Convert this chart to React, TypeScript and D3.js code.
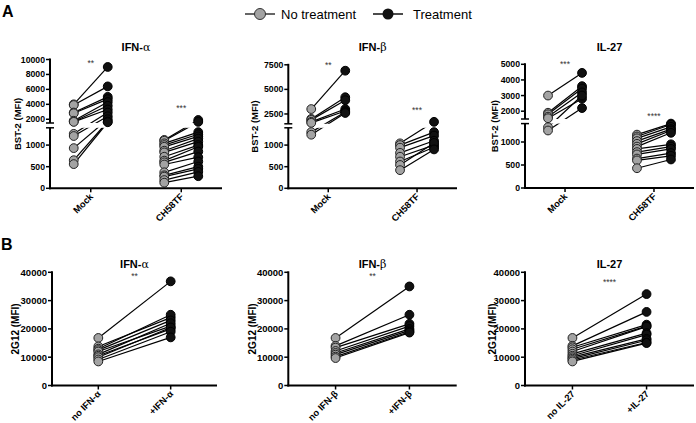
import React from 'react';
import * as d3 from 'd3';

// ---------- DATA ----------
const catsA = ['Mock', 'CH58TF'];
const catsB1 = ['no IFN-α', '+IFN-α'];
const catsB2 = ['no IFN-β', '+IFN-β'];
const catsB3 = ['no IL-27', '+IL-27'];

// Panel A – BST-2 (MFI)
const a1MockBefore = [4000, 3900, 2900, 2800, 1800, 1700, 1650, 1260, 1210, 930, 650, 560];
const a1MockAfter = [9000, 6400, 5000, 4700, 4300, 3800, 3300, 2900, 2400, 2000, 1700, 1600];
const a1TfBefore = [1120, 1100, 1040, 1000, 960, 870, 830, 730, 640, 600, 550, 370, 300, 270, 190, 130];
const a1TfAfter = [1900, 1650, 1300, 1250, 1200, 1150, 1080, 1000, 960, 850, 720, 620, 500, 450, 380, 280];

const a2MockBefore = [3000, 2000, 1900, 1700, 1600, 1300, 1240];
const a2MockAfter = [6900, 4200, 3900, 3000, 2800, 2700, 2600];
const a2TfBefore = [1040, 1000, 940, 820, 730, 620, 540, 420];
const a2TfAfter = [1700, 1300, 1220, 1100, 1000, 950, 1050, 900];

const a3MockBefore = [3000, 1900, 1800, 1650, 1550, 1320, 1250];
const a3MockAfter = [4450, 3600, 3450, 3200, 2800, 3000, 2200];
const a3TfBefore = [1160, 1120, 1080, 1020, 960, 900, 850, 780, 730, 640, 600, 430];
const a3TfAfter = [1400, 1380, 1330, 1280, 1250, 1200, 950, 900, 850, 760, 700, 620];

// Panel B – 2G12 (MFI)
const b1Before = [16800, 13800, 13000, 12500, 12000, 11000, 10500, 10000, 9200, 8500];
const b1After = [36800, 24000, 25000, 23000, 21000, 22000, 20000, 20500, 19000, 17000];
const b2Before = [16800, 14000, 13400, 12200, 11500, 10900, 10200, 9700];
const b2After = [35000, 25000, 21800, 21000, 20000, 19500, 19000, 18700];
const b3Before = [16800, 14000, 13500, 12800, 12000, 11200, 10500, 10000, 9500, 9000, 8500];
const b3After = [32300, 26000, 21500, 21000, 20800, 18500, 18000, 16500, 16000, 15200, 15000];

const lowerTicksA = [0, 500, 1000];
const upperTicksA1 = [2000, 4000, 6000, 8000, 10000];
const upperTicksA2 = [2500, 5000, 7500];
const upperTicksA3 = [2000, 3000, 4000, 5000];
const ticksB = [0, 10000, 20000, 30000, 40000];

const starsA1 = ['**', '***'];
const starsA2 = ['**', '***'];
const starsA3 = ['***', '****'];

const GRAY = '#a3a3a3';
const FONT = 'Arial, "Liberation Sans", sans-serif';

function Title({ x, y, text }: { x: number; y: number; text: string }) {
  const greek = text.match(/[αβ]$/);
  return (
    <text x={x} y={y} textAnchor="middle" fontFamily={FONT} fontWeight="bold" fontSize={11}>
      {greek ? text.slice(0, -1) : text}
      {greek ? <tspan fontFamily="'DejaVu Serif', serif" fontWeight="normal" fontSize={11}>{greek[0]}</tspan> : null}
    </text>
  );
}

function CatLabel({ x, y, text }: { x: number; y: number; text: string }) {
  return (
    <text transform={`translate(${x},${y}) rotate(-45)`} textAnchor="end" fontFamily={FONT} fontWeight="bold" fontSize={9.3}>
      {text}
    </text>
  );
}

type Pair = { before: number[]; after: number[] };

function PanelA(props: {
  x0: number; x1: number; title: string; cats: string[]; groups: Pair[];
  upperDomain: [number, number]; upperRange: [number, number];
  lowerRange: [number, number]; upperTicks: number[]; stars: string[]; starY: number[];
  labelX: number;
}) {
  const { x0, x1, title, cats, groups, upperDomain, upperRange, lowerRange, upperTicks, stars, starY, labelX } = props;
  const x = d3.scalePoint<string>().domain(cats).range([x0, x1]).padding(0.45);
  const lower = d3.scaleLinear().domain([0, 1400]).range(lowerRange);
  const upper = d3.scaleLinear().domain(upperDomain).range(upperRange);
  const y = (v: number) => (v <= 1450 ? lower(v) : upper(v));
  const baseY = lowerRange[0];
  const dodge = 17;
  return (
    <g>
      <Title x={(x0 + x1) / 2} y={51} text={title} />
      {groups.map((g, gi) =>
        g.before.map((b, i) => (
          <line key={`l${gi}-${i}`} x1={x(cats[gi])! - dodge} y1={y(b)} x2={x(cats[gi])! + dodge} y2={y(g.after[i])} stroke="#000" strokeWidth={1.2} />
        ))
      )}
      <rect x={x0 + 2} y={upperRange[0]} width={x1 - x0} height={lowerRange[1] - upperRange[0]} fill="#fff" />
      {groups.map((g, gi) =>
        g.before.map((b, i) => (
          <circle key={`g${gi}-${i}`} cx={x(cats[gi])! - dodge} cy={y(b)} r={4.4} fill={GRAY} stroke="#222" strokeWidth={1} />
        ))
      )}
      {groups.map((g, gi) =>
        g.after.map((a, i) => (
          <circle key={`b${gi}-${i}`} cx={x(cats[gi])! + dodge} cy={y(a)} r={4.4} fill="#111" stroke="#000" strokeWidth={1} />
        ))
      )}
      <line x1={x0} x2={x0} y1={baseY + 1} y2={lowerRange[1]} stroke="#000" strokeWidth={2} />
      <line x1={x0} x2={x0} y1={upperRange[0]} y2={upperRange[1] - 1} stroke="#000" strokeWidth={2} />
      <line x1={x0 - 4} x2={x0 + 4} y1={lowerRange[1]} y2={lowerRange[1]} stroke="#000" strokeWidth={1.5} />
      <line x1={x0 - 4} x2={x0 + 4} y1={upperRange[0]} y2={upperRange[0]} stroke="#000" strokeWidth={1.5} />
      {lowerTicksA.map(t => (
        <g key={`lt${t}`}>
          <line x1={x0 - 4} x2={x0} y1={lower(t)} y2={lower(t)} stroke="#000" strokeWidth={1.5} />
          <text x={x0 - 5} y={lower(t)} dy="0.35em" textAnchor="end" fontFamily={FONT} fontWeight="bold" fontSize={8.7}>{t}</text>
        </g>
      ))}
      {upperTicks.map(t => (
        <g key={`ut${t}`}>
          <line x1={x0 - 4} x2={x0} y1={upper(t)} y2={upper(t)} stroke="#000" strokeWidth={1.5} />
          <text x={x0 - 5} y={upper(t)} dy="0.35em" textAnchor="end" fontFamily={FONT} fontWeight="bold" fontSize={8.7}>{t}</text>
        </g>
      ))}
      <text transform={`translate(${labelX},${(lowerRange[0] + upperRange[1]) / 2}) rotate(-90)`} textAnchor="middle" dy="0.35em" fontFamily={FONT} fontWeight="bold" fontSize={9.5}>BST-2 (MFI)</text>
      <line x1={x0 - 1} x2={x1} y1={baseY} y2={baseY} stroke="#000" strokeWidth={2} />
      {cats.map(c => (
        <g key={c}>
          <line x1={x(c)!} x2={x(c)!} y1={baseY} y2={baseY + 4} stroke="#000" strokeWidth={1.5} />
          <CatLabel x={x(c)! + 3} y={baseY + 9} text={c} />
        </g>
      ))}
      {cats.map((c, i) => (
        <text key={`s${c}`} x={x(c)!} y={starY[i]} textAnchor="middle" fontFamily={FONT} fontSize={8.5} fill="#333">{stars[i]}</text>
      ))}
    </g>
  );
}

function PanelB(props: { x0: number; x1: number; title: string; cats: string[]; before: number[]; after: number[]; star: string; labelX: number }) {
  const { x0, x1, title, cats, before, after, star, labelX } = props;
  const x = d3.scalePoint<string>().domain(cats).range([x0, x1]).padding(0.64);
  const y = d3.scaleLinear().domain([0, 40000]).range([385.5, 272.3]);
  const baseY = y(0);
  return (
    <g>
      <Title x={(x0 + x1) / 2} y={268} text={title} />
      {before.map((b, i) => (
        <line key={`l${i}`} x1={x(cats[0])!} y1={y(b)} x2={x(cats[1])!} y2={y(after[i])} stroke="#000" strokeWidth={1.2} />
      ))}
      {before.map((b, i) => (
        <circle key={`g${i}`} cx={x(cats[0])!} cy={y(b)} r={4.4} fill={GRAY} stroke="#222" strokeWidth={1} />
      ))}
      {after.map((a, i) => (
        <circle key={`b${i}`} cx={x(cats[1])!} cy={y(a)} r={4.4} fill="#111" stroke="#000" strokeWidth={1} />
      ))}
      <line x1={x0} x2={x0} y1={baseY + 1} y2={y(40000) - 1} stroke="#000" strokeWidth={2} />
      {ticksB.map(t => (
        <g key={t}>
          <line x1={x0 - 4} x2={x0} y1={y(t)} y2={y(t)} stroke="#000" strokeWidth={1.5} />
          <text x={x0 - 5} y={y(t)} dy="0.35em" textAnchor="end" fontFamily={FONT} fontWeight="bold" fontSize={9.5}>{t}</text>
        </g>
      ))}
      <text transform={`translate(${labelX},${(y(0) + y(40000)) / 2}) rotate(-90)`} textAnchor="middle" dy="0.35em" fontFamily={FONT} fontWeight="bold" fontSize={10}>2G12 (MFI)</text>
      <line x1={x0 - 1} x2={x1} y1={baseY} y2={baseY} stroke="#000" strokeWidth={2} />
      {cats.map(c => (
        <g key={c}>
          <line x1={x(c)!} x2={x(c)!} y1={baseY} y2={baseY + 4} stroke="#000" strokeWidth={1.5} />
          <CatLabel x={x(c)! + 3} y={baseY + 9} text={c} />
        </g>
      ))}
      <text x={(x(cats[0])! + x(cats[1])!) / 2} y={star.length > 3 ? 285 : 279} textAnchor="middle" fontFamily={FONT} fontSize={8.5} fill="#333">{star}</text>
    </g>
  );
}

export default function App() {
  return (
    <svg width={696} height={423} style={{ position: 'absolute', left: 0, top: 0, background: '#fff' }}>
      <rect width={696} height={423} fill="#fff" />
      <g>
        <line x1={245} x2={275} y1={14} y2={14} stroke="#333" strokeWidth={1.5} />
        <circle cx={260} cy={14} r={5.5} fill={GRAY} stroke="#333" strokeWidth={1} />
        <text x={281} y={18.5} fontFamily={FONT} fontSize={13}>No treatment</text>
        <line x1={373} x2={403} y1={14} y2={14} stroke="#111" strokeWidth={1.5} />
        <circle cx={388} cy={14} r={5.5} fill="#111" />
        <text x={413} y={18.5} fontFamily={FONT} fontSize={13}>Treatment</text>
      </g>
      <text x={2} y={17} fontFamily={FONT} fontWeight="bold" fontSize={16}>A</text>
      <text x={1} y={250} fontFamily={FONT} fontWeight="bold" fontSize={16}>B</text>

      <PanelA x0={50} x1={222} title="IFN-α" cats={catsA}
        groups={[{ before: a1MockBefore, after: a1MockAfter }, { before: a1TfBefore, after: a1TfAfter }]}
        upperDomain={[1500, 10000]} upperRange={[123, 59.5]} lowerRange={[188.3, 127.8]}
        upperTicks={upperTicksA1} stars={starsA1} starY={[66, 111]} labelX={18} />
      <PanelA x0={288.3} x1={457} title="IFN-β" cats={catsA}
        groups={[{ before: a2MockBefore, after: a2MockAfter }, { before: a2TfBefore, after: a2TfAfter }]}
        upperDomain={[1500, 7500]} upperRange={[123.8, 64.8]} lowerRange={[188.3, 127.8]}
        upperTicks={upperTicksA2} stars={starsA2} starY={[68, 113]} labelX={255} />
      <PanelA x0={525} x1={694} title="IL-27" cats={catsA}
        groups={[{ before: a3MockBefore, after: a3MockAfter }, { before: a3TfBefore, after: a3TfAfter }]}
        upperDomain={[1500, 5000]} upperRange={[119, 64.3]} lowerRange={[188, 123.6]}
        upperTicks={upperTicksA3} stars={starsA3} starY={[67, 119]} labelX={495} />

      <PanelB x0={52} x1={217} title="IFN-α" cats={catsB1} before={b1Before} after={b1After} star="**" labelX={15} />
      <PanelB x0={288.3} x1={456.7} title="IFN-β" cats={catsB2} before={b2Before} after={b2After} star="**" labelX={252} />
      <PanelB x0={525} x1={694} title="IL-27" cats={catsB3} before={b3Before} after={b3After} star="****" labelX={492} />
    </svg>
  );
}
